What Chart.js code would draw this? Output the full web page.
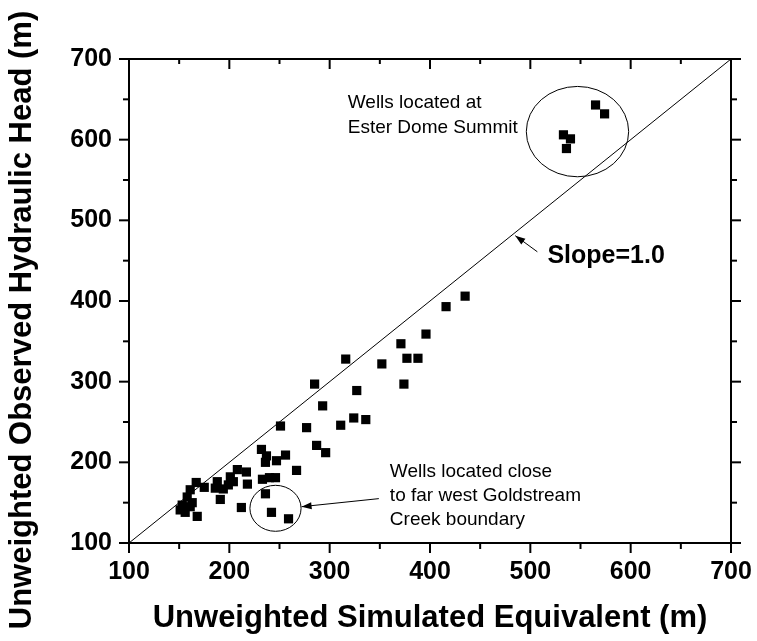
<!DOCTYPE html>
<html>
<head>
<meta charset="utf-8">
<script src="https://cdn.jsdelivr.net/npm/chart.js@4.4.0/dist/chart.umd.min.js"></script>
<style>
  html, body { margin: 0; padding: 0; background: #fff; }
</style>
</head>
<body>
<canvas id="headChart" width="757" height="641"></canvas>
<script>
// simulated vs observed head at each well (m)
const simulated = [
  285, 327, 374, 293, 251, 277, 311, 324, 336, 287, 296,
  232, 237, 256, 247, 236, 267, 217, 208, 218, 233, 240, 246,
  236, 242, 259, 212, 191, 201, 188, 186, 194, 199, 204,
  167, 175, 161, 158, 153, 151, 161, 163, 156, 168,
  316, 352, 371, 377, 388, 396, 416, 435,
  565, 574, 533, 540, 536
];
const observed = [
  297, 289, 297, 270, 245, 243, 246, 255, 253, 221, 212,
  216, 208, 209, 202, 200, 190, 188, 191, 173, 179, 181, 181,
  161, 138, 130, 144, 154, 182, 176, 168, 167, 172, 176,
  175, 169, 166, 157, 147, 141, 145, 150, 138, 133,
  328, 322, 347, 329, 329, 359, 393, 406,
  643, 632, 606, 601, 589
];

// 1:1 reference line
const oneToOneX = [100, 700];
const oneToOneY = [100, 700];

const axisMin = 100;
const axisMax = 700;
const majorStep = 100;
const minorStep = 50;

const FONT = "'Liberation Sans', Arial, sans-serif";
const yTitle = 'Unweighted Observed Hydraulic Head (m)';

// call-outs, in data units
const ellipses = [
  { cx: 547, cy: 610, rx: 51, ry: 56 },
  { cx: 246, cy: 143, rx: 25.5, ry: 28.5 }
];
const arrows = [
  { from: [507, 461], to: [485, 481] },
  { from: [349, 155], to: [272, 145] }
];
const notes = [
  { x: 318, y: 639, text: 'Wells located at', bold: false, size: 19 },
  { x: 318, y: 608, text: 'Ester Dome Summit', bold: false, size: 19 },
  { x: 360, y: 182, text: 'Wells located close', bold: false, size: 19 },
  { x: 360, y: 152, text: 'to far west Goldstream', bold: false, size: 19 },
  { x: 360, y: 122, text: 'Creek boundary', bold: false, size: 19 },
  { x: 517, y: 447, text: 'Slope=1.0', bold: true, size: 25 }
];

// box, mirrored tick marks, y title and annotations
const decorations = {
  id: 'decorations',
  afterDraw(chart) {
    const { ctx, chartArea: a, scales: { x, y } } = chart;
    const seg = (x1, y1, x2, y2) => {
      ctx.beginPath(); ctx.moveTo(x1, y1); ctx.lineTo(x2, y2); ctx.stroke();
    };
    ctx.save();
    ctx.strokeStyle = '#000';
    ctx.lineWidth = 2;
    ctx.strokeRect(a.left, a.top, a.right - a.left, a.bottom - a.top);
    for (let v = axisMin; v <= axisMax; v += minorStep) {
      const major = v % majorStep === 0;
      const len = major ? 10 : 6;
      const px = x.getPixelForValue(v);
      const py = y.getPixelForValue(v);
      seg(px, a.bottom, px, a.bottom + len);
      seg(px, a.top, px, a.top + (major ? 10 : 5));
      seg(a.left, py, a.left - len, py);
      seg(a.right, py, a.right + len, py);
    }

    ctx.lineWidth = 1;
    ellipses.forEach(e => {
      const cx = x.getPixelForValue(e.cx);
      const cy = y.getPixelForValue(e.cy);
      const rx = Math.abs(x.getPixelForValue(e.cx + e.rx) - cx);
      const ry = Math.abs(y.getPixelForValue(e.cy + e.ry) - cy);
      ctx.beginPath();
      ctx.ellipse(cx, cy, rx, ry, 0, 0, Math.PI * 2);
      ctx.stroke();
    });

    ctx.fillStyle = '#000';
    arrows.forEach(ar => {
      const x1 = x.getPixelForValue(ar.from[0]), y1 = y.getPixelForValue(ar.from[1]);
      const x2 = x.getPixelForValue(ar.to[0]), y2 = y.getPixelForValue(ar.to[1]);
      const ang = Math.atan2(y2 - y1, x2 - x1);
      const c = Math.cos(ang), s = Math.sin(ang);
      seg(x1, y1, x2, y2);
      ctx.beginPath();
      ctx.moveTo(x2, y2);
      ctx.lineTo(x2 - 10 * c + 3.5 * s, y2 - 10 * s - 3.5 * c);
      ctx.lineTo(x2 - 10 * c - 3.5 * s, y2 - 10 * s + 3.5 * c);
      ctx.closePath();
      ctx.fill();
    });

    ctx.textAlign = 'left';
    ctx.textBaseline = 'alphabetic';
    notes.forEach(n => {
      ctx.font = (n.bold ? 'bold ' : '') + n.size + 'px ' + FONT;
      ctx.fillText(n.text, x.getPixelForValue(n.x), y.getPixelForValue(n.y));
    });

    // vertical axis title, centred on the canvas height
    ctx.translate(22, 320);
    ctx.rotate(-Math.PI / 2);
    ctx.font = 'bold 31px ' + FONT;
    ctx.textAlign = 'center';
    ctx.textBaseline = 'middle';
    ctx.fillText(yTitle, 0, 0);
    ctx.restore();
  }
};

const tickFont = { family: FONT, size: 25, weight: 'bold' };
const titleFont = { family: FONT, size: 31, weight: 'bold' };

new Chart(document.getElementById('headChart'), {
  type: 'scatter',
  data: {
    datasets: [
      {
        label: 'Wells',
        data: simulated.map((v, i) => ({ x: v, y: observed[i] })),
        pointStyle: 'rect',
        pointRadius: 6.5,
        pointBackgroundColor: '#000',
        pointBorderWidth: 0
      },
      {
        label: '1:1',
        data: oneToOneX.map((v, i) => ({ x: v, y: oneToOneY[i] })),
        showLine: true,
        borderColor: '#000',
        borderWidth: 1,
        pointRadius: 0
      }
    ]
  },
  options: {
    responsive: false,
    animation: false,
    layout: { padding: { left: 0, top: 59, right: 26, bottom: 0 } },
    plugins: { legend: { display: false }, tooltip: { enabled: false } },
    scales: {
      x: {
        min: axisMin, max: axisMax,
        afterFit: s => { s.height = 98; s.paddingLeft = 0; s.paddingRight = 0; },
        grid: { display: false, drawTicks: false },
        border: { display: false },
        ticks: { stepSize: majorStep, color: '#000', font: tickFont, padding: 14 },
        title: { display: true, text: 'Unweighted Simulated Equivalent (m)', color: '#000', font: titleFont, padding: { top: 0, bottom: 4 } }
      },
      y: {
        min: axisMin, max: axisMax,
        afterFit: s => { s.width = 129; s.paddingTop = 0; s.paddingBottom = 0; },
        grid: { display: false, drawTicks: false },
        border: { display: false },
        ticks: { stepSize: majorStep, color: '#000', font: tickFont, padding: 17 }
      }
    }
  },
  plugins: [decorations]
});
</script>
</body>
</html>
